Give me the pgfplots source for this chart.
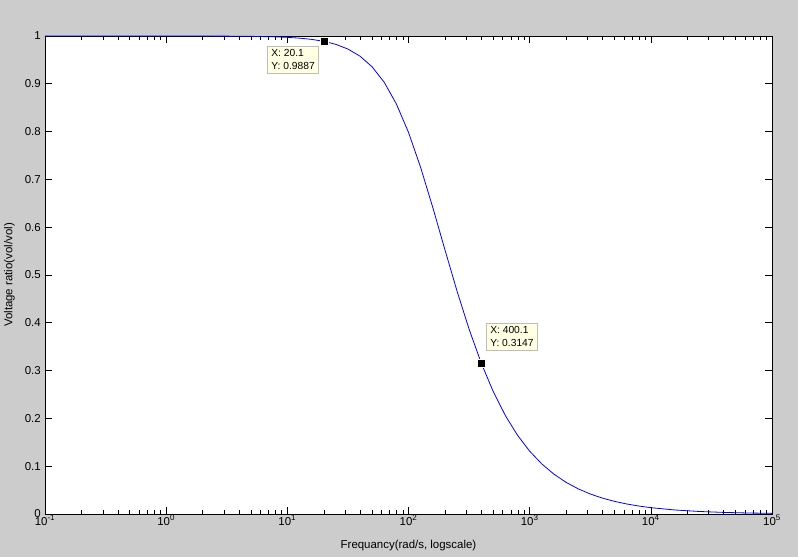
\documentclass[border=0pt]{standalone}
\usepackage{fontspec}
\setmainfont{Liberation Sans}
\usepackage{pgfplots}
\pgfplotsset{compat=1.18}
\definecolor{bggray}{RGB}{204,204,204}
\definecolor{tipfill}{RGB}{255,255,228}
\definecolor{tipdraw}{RGB}{190,190,180}
\begin{document}
\begin{tikzpicture}
\fill[bggray] (0,0) rectangle (798bp,557bp);
\begin{axis}[
  at={(45bp,43bp)}, anchor=south west,
  scale only axis, width=727bp, height=478bp,
  xmode=log, xmin=0.1, xmax=100000, ymin=0, ymax=1,
  axis background/.style={fill=white},
  axis line style={black, line width=0.7bp},
  every tick/.style={black, line width=0.6bp},
  tick align=inside,
  major tick length=7bp, minor tick length=4bp,
  xtick={0.1,1,10,100,1000,10000,100000},
  xticklabels={10\textsuperscript{-1},10\textsuperscript{0},10\textsuperscript{1},10\textsuperscript{2},10\textsuperscript{3},10\textsuperscript{4},10\textsuperscript{5}},
  minor xtick={0.2,0.3,0.4,0.5,0.6,0.7,0.8,0.9,2,3,4,5,6,7,8,9,20,30,40,50,60,70,80,90,200,300,400,500,600,700,800,900,2000,3000,4000,5000,6000,7000,8000,9000,20000,30000,40000,50000,60000,70000,80000,90000},
  ytick={0,0.1,0.2,0.3,0.4,0.5,0.6,0.7,0.8,0.9,1},
  yticklabels={0,0.1,0.2,0.3,0.4,0.5,0.6,0.7,0.8,0.9,1},
  xticklabel style={font=\fontsize{11.5}{13}\selectfont, inner sep=1bp, anchor=north},
  yticklabel style={font=\fontsize{11.5}{13}\selectfont, inner sep=0bp, anchor=east, xshift=-4bp},
  xlabel={Frequancy(rad/s, logscale)},
  ylabel={Voltage ratio(vol/vol)},
  every axis x label/.style={at={(axis description cs:0.5,0)}, anchor=base, yshift=-34bp, font=\fontsize{11.5}{13}\selectfont},
  every axis y label/.style={at={(axis description cs:0,0.5)}, rotate=90, anchor=center, yshift=35.5bp, font=\fontsize{11.5}{13}\selectfont},
  clip=false,
]
\addplot[color={rgb,255:red,0;green,0;blue,255}, line width=0.8bp, mark=none] coordinates {
(0.1,1.0000) (0.31623,1.0000) (1,1.0000) (3.1623,0.99972) (5.0119,0.99929) (7.9433,0.99821)
(10,0.99717) (12.589,0.99552) (15.849,0.99294) (19.953,0.98887) (20.1,0.9887) (25.119,0.98253)
(31.623,0.97271) (39.811,0.95776) (50.119,0.93540) (63.096,0.90297) (79.433,0.85784)
(100,0.79839) (125.89,0.72518) (158.49,0.64166) (199.53,0.55346) (251.19,0.46681)
(316.23,0.38667) (398.11,0.31599) (400.1,0.3147) (501.19,0.25575) (630.96,0.20565)
(794.33,0.16464) (1000,0.13144) (1258.9,0.10474) (1584.9,0.083368) (1995.3,0.066306)
(2511.9,0.052712) (3162.3,0.041892) (3981.1,0.033287) (5011.9,0.026446) (6309.6,0.021010)
(7943.3,0.016690) (10000,0.013258) (15849,0.008366) (25119,0.005279) (39811,0.003331)
(63096,0.002101) (100000,0.001326)
};
\addplot[only marks, mark=square*, mark size=4bp, mark options={fill=black, draw=tipfill, line width=0.5bp}] coordinates {(20.1,0.9887) (400.1,0.3147)};
\node[anchor=north west, fill=tipfill, draw=tipdraw, line width=0.6bp, align=left, inner xsep=4bp, inner ysep=3.5bp, font=\fontsize{10.3}{13}\selectfont, xshift=-57bp, yshift=-4.6bp] at (axis cs:20.1,0.9887) {X: 20.1\\Y: 0.9887};
\node[anchor=north west, fill=tipfill, draw=tipdraw, line width=0.6bp, align=left, inner xsep=4bp, inner ysep=3.5bp, font=\fontsize{10.3}{13}\selectfont, xshift=4.5bp, yshift=40.6bp] at (axis cs:400.1,0.3147) {X: 400.1\\Y: 0.3147};
\end{axis}
\pgfresetboundingbox
\useasboundingbox (0,0) rectangle (798bp,557bp);
\end{tikzpicture}
\end{document}
